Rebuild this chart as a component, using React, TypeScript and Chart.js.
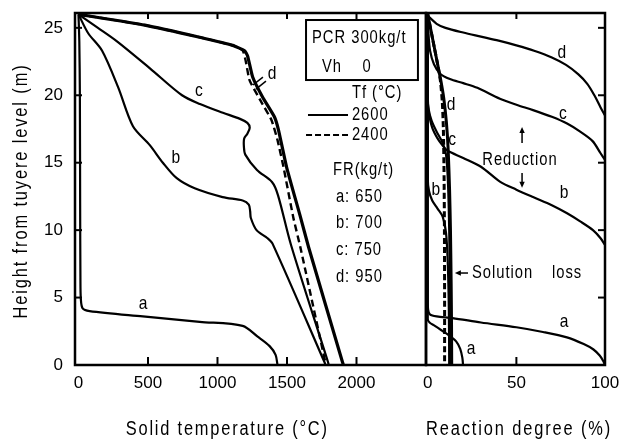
import React, { useEffect, useRef } from "react";
import { Chart, registerables } from "chart.js";
Chart.register(...registerables);

// ---------- axis ticks ----------
const H_TICKS = [0, 5, 10, 15, 20, 25];
const T_TICKS = [0, 500, 1000, 1500, 2000];
const R_TICKS = [0, 50, 100];
const H_MARKS = [5, 10, 15, 20, 25];
const T_MARKS = [500, 1000, 1500, 2000];
const R_MARKS = [50];

// ---------- left panel: solid temperature (°C), height (m) ----------
const tempA: [number, number][] = [
  [0, 26], [6, 24], [10, 20], [12, 12], [14, 6.5], [17, 4.9], [30, 4.2], [80, 4.0],
  [463, 3.6], [872, 3.2], [1181, 2.9], [1289, 2.1], [1375, 1.4], [1418, 0.75], [1432, 0],
];
const tempB: [number, number][] = [
  [0, 26], [70, 24.6], [170, 23.3], [285, 20.6], [392, 17.7], [513, 16.3], [607, 15.0],
  [707, 13.85], [836, 13.1], [1037, 12.45], [1181, 12.2], [1225, 11.9], [1235, 11.4],
  [1240, 10.9], [1281, 10.0], [1360, 9.4], [1396, 9.0], [1770, 0.2], [1777, 0],
];
const tempC: [number, number][] = [
  [0, 26], [140, 25.0], [277, 24.0], [514, 22.0], [745, 20.0], [874, 19.35], [1039, 18.7],
  [1162, 18.25], [1215, 17.95], [1232, 17.6], [1215, 17.15], [1192, 16.8], [1190, 16.2],
  [1200, 15.6], [1284, 14.46], [1392, 13.57], [1435, 12.6], [1529, 8.9], [1795, 0.22], [1800, 0],
];
const tempD2600: [number, number][] = [
  [0, 26], [477, 25.2], [872, 24.3], [1109, 23.7], [1195, 23.3], [1217, 22.9], [1253, 21.35],
  [1324, 19.87], [1410, 18.39], [1439, 17.42], [1497, 14.68], [1597, 10.97], [1655, 8.75],
  [1899, 0.22], [1906, 0],
];
const tempD2400: [number, number][] = [
  [0, 26], [477, 25.2], [872, 24.3], [1109, 23.7], [1181, 23.33], [1202, 22.6], [1231, 21.1],
  [1310, 19.6], [1389, 18.15], [1432, 16.67], [1475, 14.67], [1545, 10.96], [1596, 8.74],
  [1777, 0.15], [1784, 0],
];

// ---------- right panel: reaction degree (%), height (m) ----------
const redA: [number, number][] = [
  [0, 26], [0, 5], [0.2, 4.1], [1.2, 3.75], [5, 3.6], [14, 3.48], [30, 3.15], [50, 2.8],
  [65, 2.45], [78.5, 2.05], [88, 1.55], [93.5, 1.15], [97, 0.7], [99, 0.3], [100, 0],
];
const redB: [number, number][] = [
  [0, 26], [0, 19.6], [0.6, 18.7], [2.5, 17.6], [5.5, 16.8], [8.5, 16.25], [11, 15.9],
  [20, 15.35], [30, 14.7], [40.7, 13.6], [50, 13.0], [59.4, 12.45], [70, 11.85],
  [78.6, 11.25], [86, 10.65], [93.2, 10.0], [97.5, 9.4], [100, 8.9],
];
const redC: [number, number][] = [
  [0, 26], [0.4, 24.6], [1.3, 23.3], [3.5, 22.3], [7, 21.6], [12.5, 21.2], [20, 20.9],
  [28, 20.55], [40.7, 19.75], [50, 19.3], [59.4, 18.9], [70, 18.4], [78.6, 17.9],
  [86, 17.3], [93, 16.6], [97.5, 15.7], [100, 15.2],
];
const redD: [number, number][] = [
  [0, 25.9], [5, 25.3], [10, 25.0], [20, 24.65], [30, 24.35], [40, 24.05], [50, 23.7],
  [60, 23.3], [70, 22.8], [78, 22.25], [85, 21.55], [90, 20.85], [94, 20.0], [97.5, 19.1],
  [100, 18.5],
];
const solA: [number, number][] = [
  [0, 26], [0, 3.4], [1, 3.15], [4, 2.9], [8, 2.55], [12.5, 2.15], [16, 1.75], [18.3, 1.2],
  [19.5, 0.55], [19.9, 0],
];
const solB: [number, number][] = [
  [0, 26], [0, 13.8], [0.7, 12.9], [2.5, 12.2], [5.5, 11.6], [8.4, 11.0], [10.3, 9.8],
  [11.3, 7.5], [11.9, 4], [12.1, 0],
];
const solC: [number, number][] = [
  [0, 26], [0, 19.8], [0.6, 18.9], [2.2, 18.1], [5, 17.3], [8.3, 16.5], [10.3, 15.6],
  [11.4, 13.5], [12.1, 10], [12.5, 6], [12.7, 3], [12.8, 0],
];
const solD2600: [number, number][] = [
  [0, 26], [1.5, 25], [3, 24], [4.5, 23], [6, 22], [7.5, 21], [9, 19.8], [10.5, 18],
  [11.5, 16], [12.3, 13], [12.8, 10], [13.2, 6], [13.4, 3], [13.5, 0],
];
const solD2400: [number, number][] = [
  [0, 26], [1.5, 25], [3, 24], [4.5, 23], [6, 22], [7.2, 21], [8.2, 19.5], [8.8, 17.5],
  [9.2, 14], [9.4, 10], [9.5, 5], [9.5, 0],
];

// ---------- texts ----------
const Y_TITLE = "Height from tuyere level (m)";
const X_TITLE_L = "Solid temperature (°C)";
const X_TITLE_R = "Reaction degree (%)";
const LEFT_LABELS: [string, number, number][] = [
  ["c", 867, 20.3], ["b", 701, 15.33], ["a", 464, 4.52], ["d", 1392, 21.56],
];
const D_POINTER: [number, number, number, number][] = [
  [1255, 20.76, 1327, 21.35], [1277, 20.46, 1349, 21.05],
];
const LEGEND_BOX: [number, number, number, number] = [1637, 25.58, 2442, 21.13];
const LEGEND_TEXT: [string, number, number][] = [
  ["PCR 300kg/t", 1680, 24.25], ["Vh", 1752, 22.1], ["0", 2043, 22.1],
  ["Tf (°C)", 1967, 20.17], ["2600", 1967, 18.54], ["2400", 1967, 17.05],
  ["FR(kg/t)", 1831, 14.46], ["a: 650", 1852, 12.46], ["b: 700", 1852, 10.49],
  ["c: 750", 1852, 8.53], ["d: 950", 1852, 6.52],
];
const RIGHT_LABELS: [string, number, number][] = [
  ["d", 75.7, 23.13], ["c", 76.3, 18.61], ["b", 76.9, 12.75], ["Reduction", 52, 15.2],
  ["d", 13.1, 19.28], ["c", 13.7, 16.68], ["b", 4.6, 12.98], ["a", 76.9, 3.19], ["a", 24.4, 1.19],
];

const FONT = "'Liberation Sans', Arial, sans-serif";

function pts(a: [number, number][]) {
  return a.map(([x, y]) => ({ x, y }));
}

function ds(data: [number, number][], width = 2, dash: number[] = [], tension = 0.3) {
  return {
    data: pts(data),
    borderColor: "#000",
    borderWidth: width,
    borderDash: dash,
    pointRadius: 0,
    fill: false,
    tension,
    borderJoinStyle: "round" as const,
  };
}

function seg(ctx: CanvasRenderingContext2D, x1: number, y1: number, x2: number, y2: number) {
  ctx.beginPath();
  ctx.moveTo(x1, y1);
  ctx.lineTo(x2, y2);
  ctx.stroke();
}

// condensed-looking text: horizontally compressed glyphs with letter spacing
function txt(ctx: CanvasRenderingContext2D, s: string, x: number, y: number, align: CanvasTextAlign, size: number, spacing: number) {
  ctx.save();
  ctx.translate(x, y);
  ctx.scale(0.82, 1);
  ctx.font = `${size}px ${FONT}`;
  (ctx as any).letterSpacing = `${spacing}px`;
  ctx.textAlign = align;
  ctx.textBaseline = "middle";
  ctx.fillText(s, 0, 0);
  ctx.restore();
}

function arrowHead(ctx: CanvasRenderingContext2D, x: number, y: number, dx: number, dy: number) {
  const s = 6;
  const px = -dy, py = dx;
  ctx.beginPath();
  ctx.moveTo(x, y);
  ctx.lineTo(x - dx * s + px * s * 0.45, y - dy * s + py * s * 0.45);
  ctx.lineTo(x - dx * s - px * s * 0.45, y - dy * s - py * s * 0.45);
  ctx.closePath();
  ctx.fill();
}

function xAxis(min: number, max: number, ticks: number[]) {
  return {
    type: "linear" as const,
    min,
    max,
    afterBuildTicks: (s: any) => {
      s.ticks = ticks.map((v) => ({ value: v }));
    },
    afterFit: (s: any) => {
      s.height = 79;
    },
    grid: { display: false, drawTicks: true, tickLength: 8 },
    border: { display: false },
    ticks: {
      padding: 0,
      color: "#000",
      autoSkip: false,
      maxRotation: 0,
      font: { family: FONT, size: 17 },
      callback: (v: any) => String(v),
    },
  };
}

const leftDecor = {
  id: "leftDecor",
  afterDatasetsDraw(chart: any) {
    const { ctx, chartArea: a } = chart;
    const X = (v: number) => chart.scales.x.getPixelForValue(v);
    const Y = (v: number) => chart.scales.y.getPixelForValue(v);
    ctx.save();
    ctx.strokeStyle = "#000";
    ctx.fillStyle = "#000";
    ctx.lineWidth = 2.5;
    ctx.strokeRect(a.left, a.top, a.right - a.left, a.bottom - a.top);
    ctx.lineWidth = 2;
    T_MARKS.forEach((v) => {
      seg(ctx, X(v), a.bottom, X(v), a.bottom - 8);
      seg(ctx, X(v), a.top, X(v), a.top + 6);
    });
    H_MARKS.forEach((v) => seg(ctx, a.left, Y(v), a.left + 7, Y(v)));
    ctx.save();
    ctx.translate(21, (a.top + a.bottom) / 2 + 2);
    ctx.rotate(-Math.PI / 2);
    txt(ctx, Y_TITLE, 0, 0, "center", 20, 2.3);
    ctx.restore();
    txt(ctx, X_TITLE_L, X(1070), a.bottom + 64, "center", 20, 2.2);
    LEFT_LABELS.forEach(([s, t, h]) => txt(ctx, s, X(t), Y(h), "center", 19, 0));
    ctx.lineWidth = 1.5;
    D_POINTER.forEach(([t1, h1, t2, h2]) => seg(ctx, X(t1), Y(h1), X(t2), Y(h2)));
    ctx.lineWidth = 2;
    const [bt1, bh1, bt2, bh2] = LEGEND_BOX;
    ctx.strokeRect(X(bt1), Y(bh1), X(bt2) - X(bt1), Y(bh2) - Y(bh1));
    LEGEND_TEXT.forEach(([s, t, h]) => txt(ctx, s, X(t), Y(h), "left", 18, 1.2));
    seg(ctx, X(1651), Y(18.54), X(1939), Y(18.54));
    ctx.setLineDash([6, 3]);
    seg(ctx, X(1637), Y(17.05), X(1939), Y(17.05));
    ctx.setLineDash([]);
    ctx.restore();
  },
};

const rightDecor = {
  id: "rightDecor",
  afterDatasetsDraw(chart: any) {
    const { ctx, chartArea: a } = chart;
    const X = (v: number) => chart.scales.x.getPixelForValue(v);
    const Y = (v: number) => chart.scales.y.getPixelForValue(v);
    ctx.save();
    ctx.strokeStyle = "#000";
    ctx.fillStyle = "#000";
    ctx.lineWidth = 2.5;
    ctx.strokeRect(a.left, a.top, a.right - a.left, a.bottom - a.top);
    ctx.lineWidth = 2;
    R_MARKS.forEach((v) => {
      seg(ctx, X(v), a.bottom, X(v), a.bottom - 8);
      seg(ctx, X(v), a.top, X(v), a.top + 6);
    });
    H_MARKS.forEach((v) => seg(ctx, a.right, Y(v), a.right - 7, Y(v)));
    txt(ctx, X_TITLE_R, X(51.5), a.bottom + 64, "center", 20, 2.3);
    RIGHT_LABELS.forEach(([s, r, h]) => txt(ctx, s, X(r), Y(h), "center", s.length > 1 ? 18 : 19, s.length > 1 ? 1.2 : 0));
    txt(ctx, "Solution", X(24.9), Y(6.82), "left", 18, 1.2);
    txt(ctx, "loss", X(70.1), Y(6.82), "left", 18, 1.2);
    ctx.lineWidth = 1.5;
    seg(ctx, X(53.2), Y(16.46), X(53.2), Y(17.3));
    arrowHead(ctx, X(53.2), Y(17.65), 0, -1);
    seg(ctx, X(53.2), Y(14.24), X(53.2), Y(13.5));
    arrowHead(ctx, X(53.2), Y(13.15), 0, 1);
    seg(ctx, X(22.7), Y(6.82), X(17.5), Y(6.82));
    arrowHead(ctx, X(15.3), Y(6.82), -1, 0);
    ctx.restore();
  },
};

export default function App() {
  const leftRef = useRef<HTMLCanvasElement>(null);
  const rightRef = useRef<HTMLCanvasElement>(null);

  useEffect(() => {
    const yCommon = { type: "linear" as const, min: 0, max: 26.1 };
    const left = new Chart(leftRef.current!, {
      type: "line",
      data: {
        datasets: [
          ds(tempA, 2.2),
          ds(tempB, 2.2),
          ds(tempC, 2.2),
          ds(tempD2400, 2.4, [7, 4], 0.15),
          ds(tempD2600, 3.2, [], 0.15),
        ],
      },
      options: {
        animation: false,
        responsive: false,
        devicePixelRatio: 1,
        layout: { padding: { left: 0, right: 4, top: 13, bottom: 0 } },
        plugins: { legend: { display: false }, tooltip: { enabled: false }, title: { display: false } },
        scales: {
          x: xAxis(-25, 2500, T_TICKS),
          y: {
            ...yCommon,
            afterBuildTicks: (s: any) => {
              s.ticks = H_TICKS.map((v) => ({ value: v }));
            },
            afterFit: (s: any) => {
              s.width = 75;
            },
            grid: { display: false, drawTicks: true, tickLength: 12 },
            border: { display: false },
            ticks: { padding: 0, color: "#000", font: { family: FONT, size: 17 }, callback: (v: any) => String(v) },
          },
        },
      } as any,
      plugins: [leftDecor],
    });

    const right = new Chart(rightRef.current!, {
      type: "line",
      data: {
        datasets: [
          ds(redA, 2.2),
          ds(redB, 2.2),
          ds(redC, 2.2),
          ds(redD, 2.2),
          ds(solA, 2.2),
          ds(solB, 2.2),
          ds(solC, 2.2),
          ds(solD2400, 3, [6, 3], 0.2),
          ds(solD2600, 3, [], 0.2),
        ],
      },
      options: {
        animation: false,
        responsive: false,
        devicePixelRatio: 1,
        layout: { padding: { left: 26, right: 16, top: 13, bottom: 0 } },
        plugins: { legend: { display: false }, tooltip: { enabled: false }, title: { display: false } },
        scales: {
          x: xAxis(-1, 100, R_TICKS),
          y: { ...yCommon, display: false },
        },
      } as any,
      plugins: [rightDecor],
    });

    return () => {
      left.destroy();
      right.destroy();
    };
  }, []);

  return (
    <div style={{ position: "absolute", left: 0, top: 0, width: 621, height: 444, background: "#fff" }}>
      <canvas ref={leftRef} width={430} height={444} style={{ position: "absolute", left: 0, top: 0 }} />
      <canvas ref={rightRef} width={221} height={444} style={{ position: "absolute", left: 400, top: 0 }} />
    </div>
  );
}
